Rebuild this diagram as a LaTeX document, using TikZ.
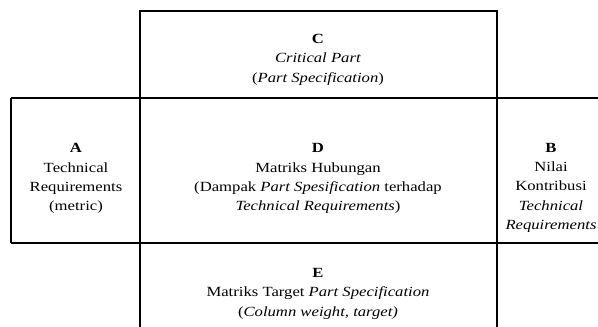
\documentclass[tikz,border=0pt]{standalone}
\usepackage{fontspec}
\usepackage{graphicx}
\setmainfont{Liberation Serif}
\newcommand{\celltext}[1]{\scalebox{1.19}[1]{\fontsize{14}{19.4}\selectfont\begin{tabular}{@{}c@{}}#1\end{tabular}}}
\begin{document}
\begin{tikzpicture}[x=1pt,y=-1pt,
  grid/.style={line width=1.6pt,black},
  cell/.style={inner sep=0pt}]
\useasboundingbox (0,0) rectangle (598,327);
% frame lines
\coordinate (tl) at (140,11);
\coordinate (tr) at (497,11);
\draw[grid] (140,327) -- (tl) -- (tr) -- (497,327);
\draw[grid] (11,98) -- (598,98);
\draw[grid] (11,243) -- (598,243);
\draw[grid] (11,98) -- (11,243);
% texts
\node[cell] (C) at (318,59) {\celltext{\textbf{C}\\\textit{Critical Part}\\(\textit{Part Specification})}};
\node[cell] (A) at (76,178) {\celltext{\textbf{A}\\Technical\\Requirements\\(metric)}};
\node[cell] (D) at (318,178) {\celltext{\textbf{D}\\Matriks Hubungan\\(Dampak \textit{Part Spesification} terhadap\\\textit{Technical Requirements})}};
\node[cell] (B) at (551,187) {\celltext{\textbf{B}\\Nilai\\Kontribusi\\\textit{Technical}\\\textit{Requirements}}};
\node[cell] (E) at (318,293) {\celltext{\textbf{E}\\Matriks Target \textit{Part Specification}\\(\textit{Column weight, target)}}};
\end{tikzpicture}
\end{document}
